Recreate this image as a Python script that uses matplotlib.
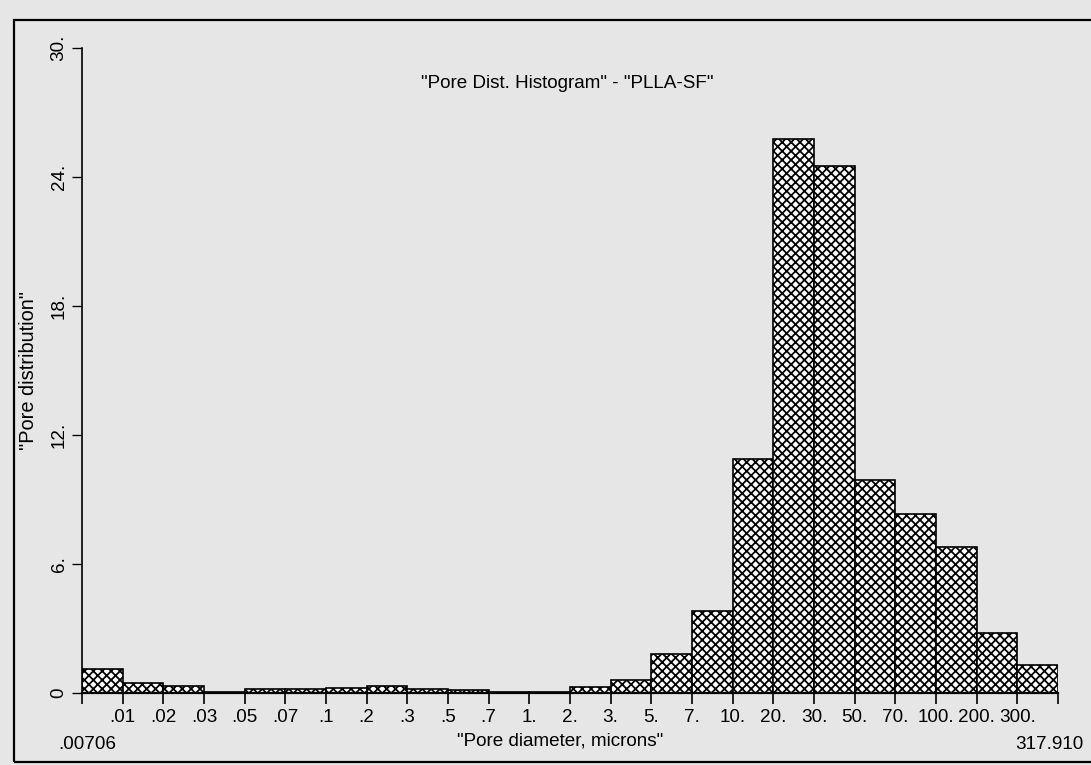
import matplotlib
matplotlib.use("Agg")
from matplotlib import pyplot as plt
from matplotlib.patches import Rectangle

plt.rcParams['font.family'] = ['Liberation Sans', 'DejaVu Sans']
plt.rcParams['hatch.linewidth'] = 1.6

# upper bin edges (microns) used as tick labels between bars
edge_labels = ['.01', '.02', '.03', '.05', '.07', '.1', '.2', '.3', '.5', '.7',
               '1.', '2.', '3.', '5.', '7.', '10.', '20.', '30.', '50.', '70.',
               '100.', '200.', '300.']
pore_dist = [1.1, 0.45, 0.3, 0.03, 0.15, 0.15, 0.2, 0.3, 0.15, 0.12,
             0.03, 0.03, 0.25, 0.6, 1.8, 3.8, 10.9, 25.8, 24.5, 9.9,
             8.3, 6.8, 2.8, 1.3]
y_ticks = [0, 6, 12, 18, 24, 30]
y_ticklabels = ['0', '6.', '12.', '18.', '24.', '30.']
d_min = '.00706'
d_max = '317.910'

fs = 17
dpi = 80
fig = plt.figure(figsize=(1091 / dpi, 765 / dpi), dpi=dpi, facecolor='#e6e6e6')
ax = fig.add_axes([82 / 1091, 1 - 692.7 / 765, 976 / 1091, 644.4 / 765])
ax.set_facecolor('none')

n = len(pore_dist)
ax.bar(range(n), pore_dist, width=1.0, align='edge', facecolor='white',
       edgecolor='black', linewidth=1.5, hatch='xxx', zorder=2)

ax.set_xlim(0, n)
ax.set_ylim(0, 30)
for side in ['top', 'right']:
    ax.spines[side].set_visible(False)
ax.spines['left'].set_linewidth(1.5)
ax.spines['bottom'].set_linewidth(2)

ax.set_xticks(range(n + 1))
ax.set_xticklabels([''] + edge_labels + [''])
ax.set_yticks(y_ticks)
ax.set_yticklabels(y_ticklabels, rotation=90, va='center')
ax.tick_params(axis='x', direction='out', length=10, width=1.5, labelsize=fs, pad=5)
ax.tick_params(axis='y', direction='out', length=9, width=1.2, labelsize=fs, pad=4)

ax.text(0.497, 0.946, '"Pore Dist. Histogram" - "PLLA-SF"', transform=ax.transAxes,
        ha='center', va='center', fontsize=fs)
ax.set_xlabel('"Pore diameter, microns"', fontsize=fs)
ax.xaxis.set_label_coords(0.49, -0.062)
ax.set_ylabel('"Pore distribution"', fontsize=18)
ax.yaxis.set_label_coords(-0.045, 0.5)

ax.text(-0.024, -0.08, d_min, transform=ax.transAxes, ha='left', va='center', fontsize=fs)
ax.text(0.956, -0.08, d_max, transform=ax.transAxes, ha='left', va='center',
        fontsize=fs, clip_on=False)

# outer frame around the plot
fig.patches.append(Rectangle((14 / 1091, 1 - 762 / 765), 1.1, (762 - 20) / 765,
                             transform=fig.transFigure, fill=False,
                             edgecolor='black', linewidth=2))

fig.savefig('out.png', dpi=dpi, facecolor=fig.get_facecolor())
